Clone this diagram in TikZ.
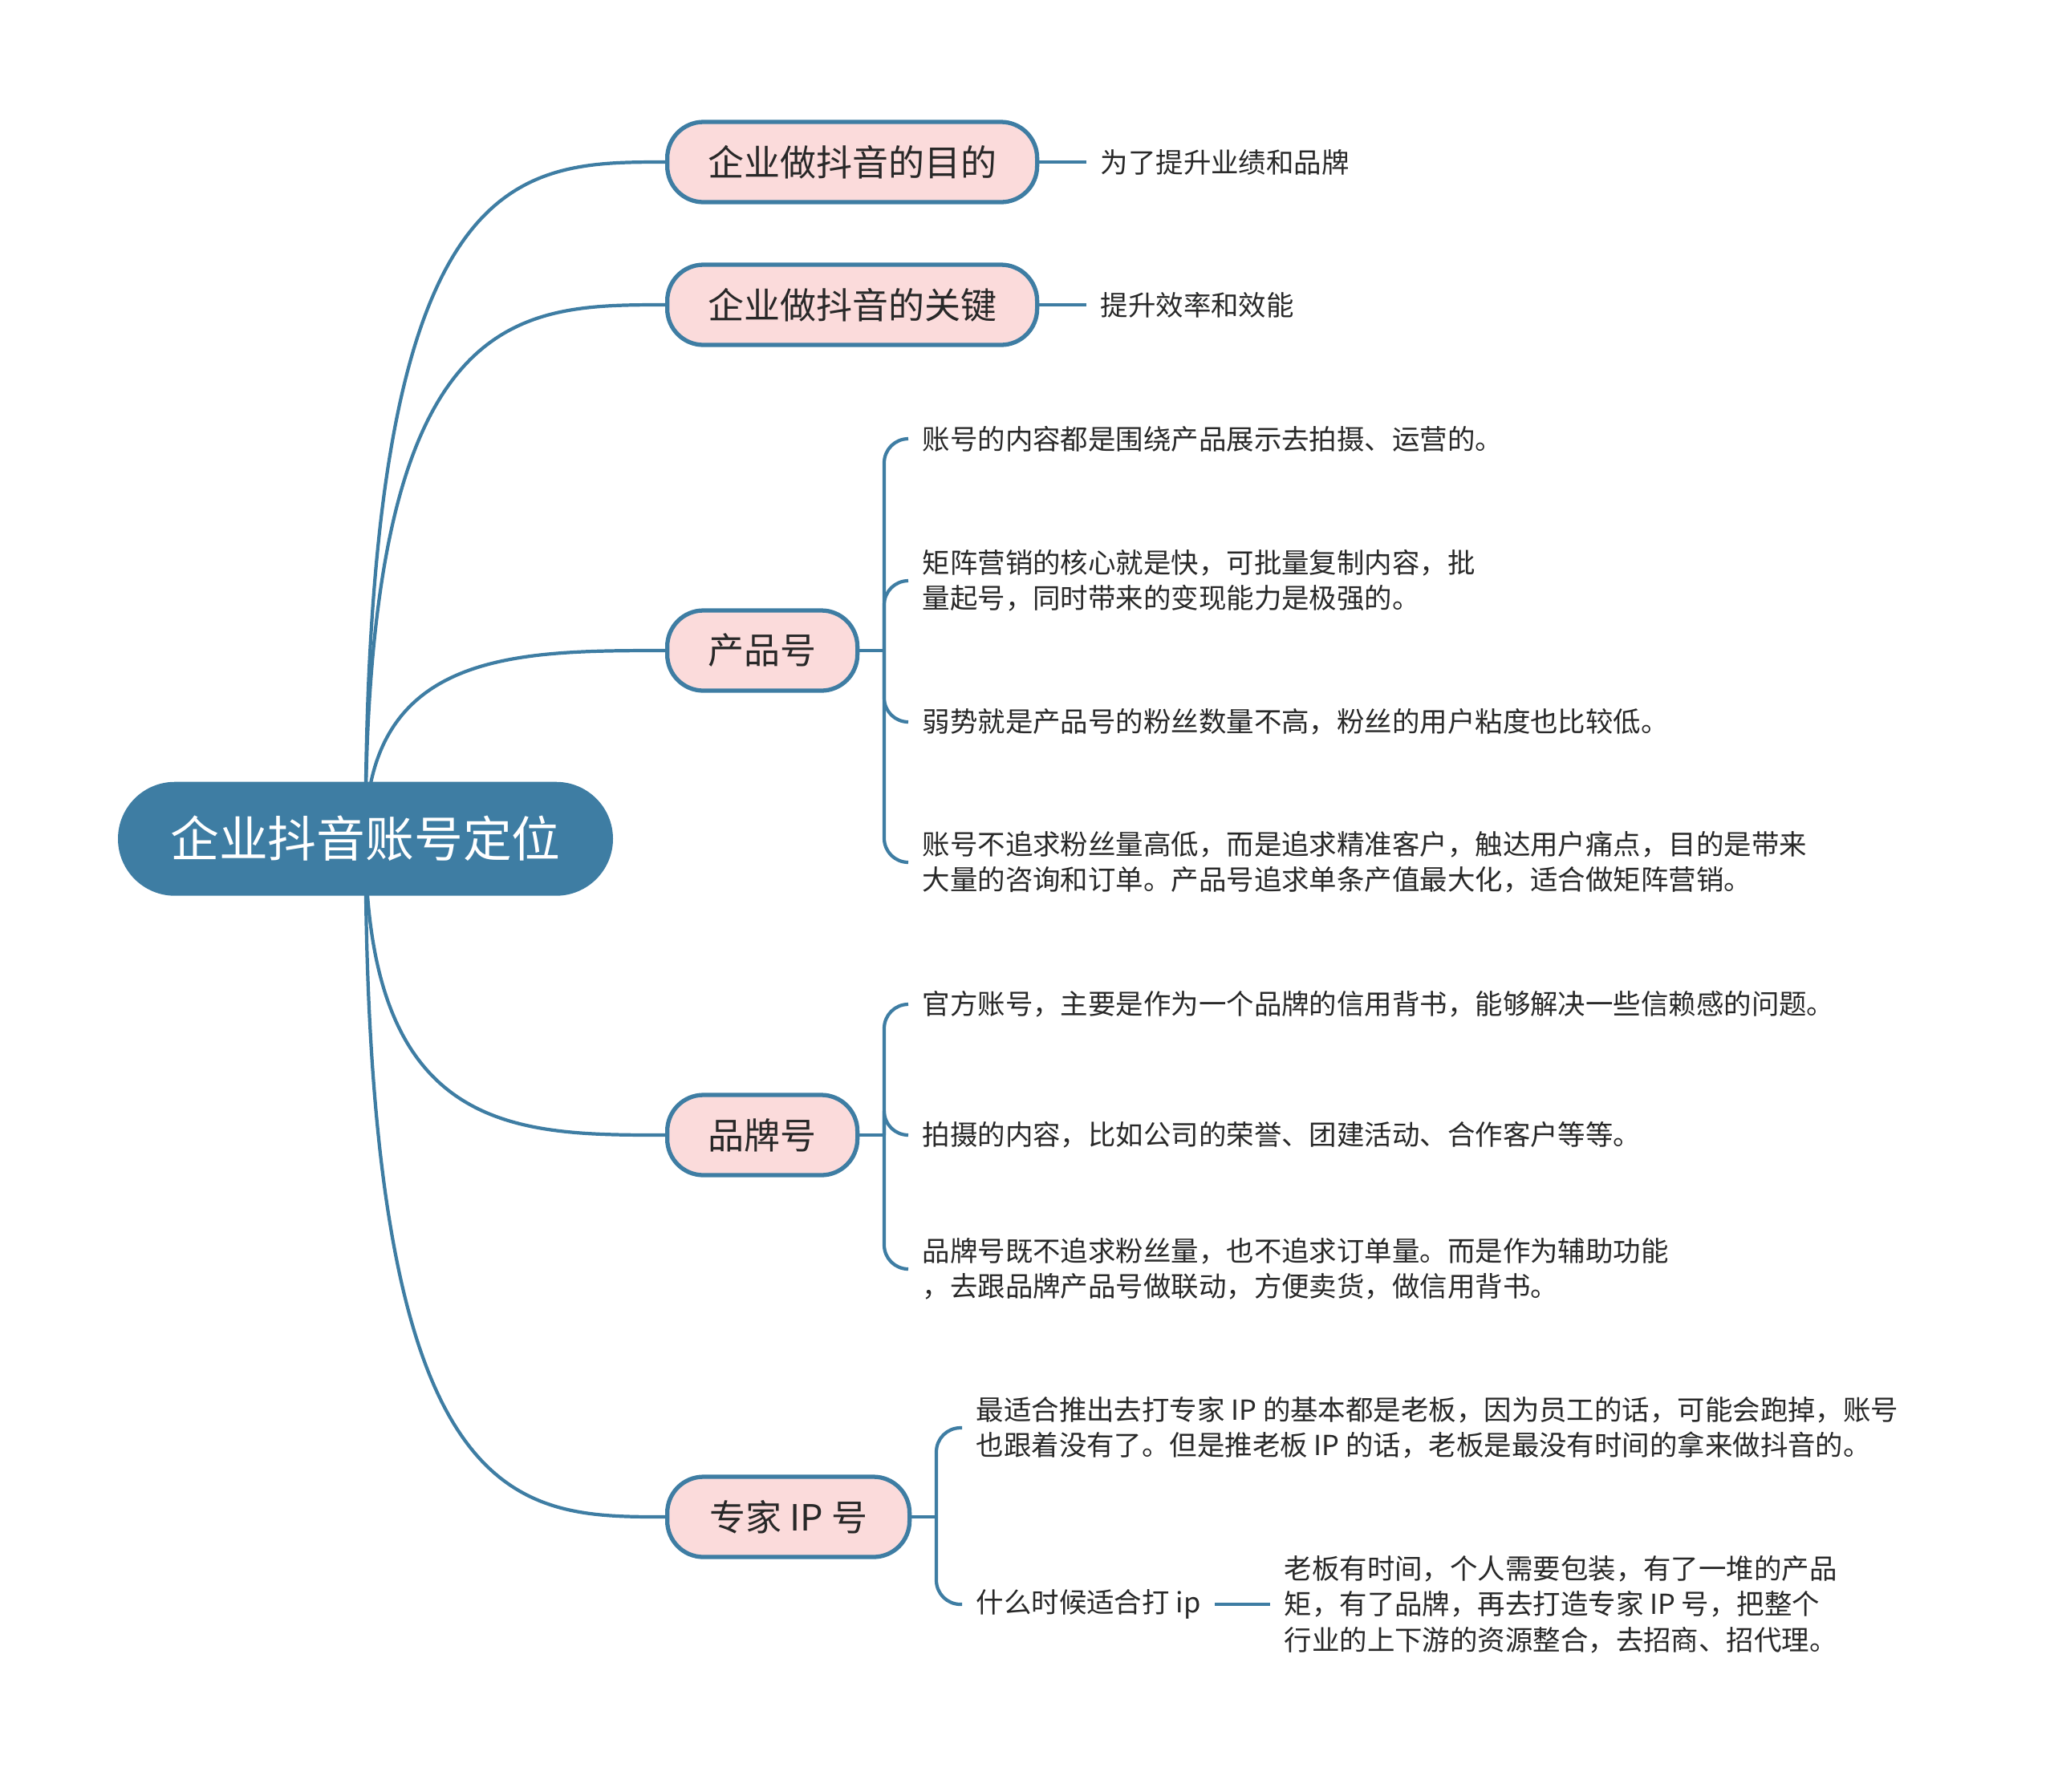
\documentclass[tikz,border=0pt]{standalone}
\usepackage{fontspec}
\setmainfont{Noto Sans CJK SC}
\usepackage{tikz}
\usetikzlibrary{positioning,calc,backgrounds}
\definecolor{map-blue}{RGB}{62,125,163}
\definecolor{map-pink}{RGB}{251,219,219}
\definecolor{map-text}{RGB}{40,40,40}

\begin{document}
\begin{tikzpicture}[
    root/.style={rectangle, fill=map-blue, text=white, rounded corners=0.71cm, minimum width=6.17cm, minimum height=1.42cm, font=\fontsize{17.3}{20}\selectfont},
    topic/.style={rectangle, draw=map-blue, line width=1.5pt, fill=map-pink, text=map-text, rounded corners=0.45cm, minimum height=1.0cm, anchor=west, font=\fontsize{12.8}{15}\selectfont},
    leaf/.style={anchor=west, align=left, inner xsep=0.17cm, inner ysep=2pt, text=map-text, font=\fontsize{9.8}{12.6}\selectfont},
    link/.style={draw=map-blue, line width=1.2pt},
    brace/.style={link, rounded corners=0.3cm}]

    \useasboundingbox (0,0) rectangle (25.6,-22.33);

    % Root
    \node[root] (root) at (4.555,-10.457) {企业抖音账号定位};

    % Topics
    \node[topic, minimum width=4.61cm] (goal) at (8.29,-2.02) {企业做抖音的目的};
    \node[topic, minimum width=4.61cm] (key) at (8.29,-3.80) {企业做抖音的关键};
    \node[topic, minimum width=2.37cm] (prod) at (8.29,-8.11) {产品号};
    \node[topic, minimum width=2.37cm] (brand) at (8.29,-14.15) {品牌号};
    \node[topic, minimum width=3.02cm] (expert) at (8.29,-18.91) {专家 IP 号};

    % Leaves - goal and key
    \node[leaf] (goalnote) at (13.54,-2.02) {为了提升业绩和品牌};
    \node[leaf] (keynote) at (13.54,-3.80) {提升效率和效能};

    % Leaves - product
    \node[leaf] (prod1) at (11.32,-5.47) {账号的内容都是围绕产品展示去拍摄、运营的。};
    \node[leaf] (prod2) at (11.32,-7.24) {矩阵营销的核心就是快，可批量复制内容，批\\量起号，同时带来的变现能力是极强的。};
    \node[leaf] (prod3) at (11.32,-9.00) {弱势就是产品号的粉丝数量不高，粉丝的用户粘度也比较低。};
    \node[leaf] (prod4) at (11.32,-10.75) {账号不追求粉丝量高低，而是追求精准客户，触达用户痛点，目的是带来\\大量的咨询和订单。产品号追求单条产值最大化，适合做矩阵营销。};

    % Leaves - brand
    \node[leaf] (brand1) at (11.32,-12.52) {官方账号，主要是作为一个品牌的信用背书，能够解决一些信赖感的问题。};
    \node[leaf] (brand2) at (11.32,-14.15) {拍摄的内容，比如公司的荣誉、团建活动、合作客户等等。};
    \node[leaf] (brand3) at (11.32,-15.82) {品牌号既不追求粉丝量，也不追求订单量。而是作为辅助功能\\，去跟品牌产品号做联动，方便卖货，做信用背书。};

    % Leaves - expert
    \node[leaf] (expert1) at (11.99,-17.80) {最适合推出去打专家 IP 的基本都是老板，因为员工的话，可能会跑掉，账号\\也跟着没有了。但是推老板 IP 的话，老板是最没有时间的拿来做抖音的。};
    \node[leaf] (whenip) at (11.99,-20.00) {什么时候适合打 ip};
    \node[leaf] (whenipnote) at (15.83,-20.00) {老板有时间，个人需要包装，有了一堆的产品\\矩，有了品牌，再去打造专家 IP 号，把整个\\行业的上下游的资源整合，去招商、招代理。};

    % Hubs
    \coordinate (prodhub) at (11.02,-8.11);
    \coordinate (brandhub) at (11.02,-14.15);
    \coordinate (experthub) at (11.67,-18.91);

    % Root links
    \begin{scope}[on background layer]
    \foreach \t in {goal,key,prod,brand,expert}
        \draw[link] (root.center) .. controls (root.center |- \t.west) and ($(root.center |- \t.west)!0.5!(\t.west)$) .. (\t.west);
    \end{scope}

    % Topic links
    \draw[link] (goal.east) -- (goalnote.west);
    \draw[link] (key.east) -- (keynote.west);
    \draw[link] (prod.east) -- (prodhub);
    \draw[link] (brand.east) -- (brandhub);
    \draw[link] (expert.east) -- (experthub);
    \foreach \c in {prod1,prod2,prod3,prod4}
        \draw[brace] (prodhub) |- (\c.west);
    \foreach \c in {brand1,brand2,brand3}
        \draw[brace] (brandhub) |- (\c.west);
    \foreach \c in {expert1,whenip}
        \draw[brace] (experthub) |- (\c.west);
    \draw[link] (whenip.east) -- (whenipnote.west);
\end{tikzpicture}
\end{document}
